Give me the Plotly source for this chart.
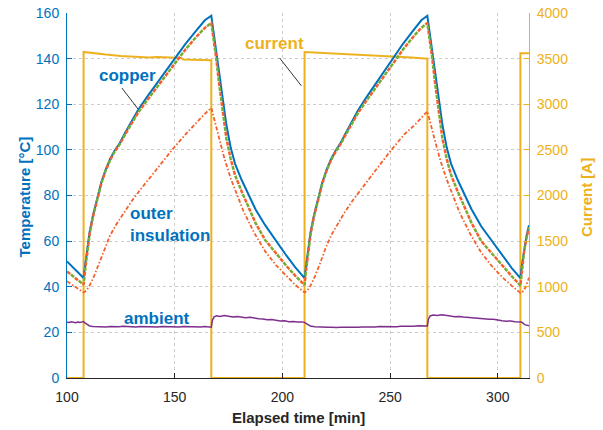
import plotly.graph_objects as go

# ---------------- data ----------------
cu_t = [100, 102, 104, 106, 107.7,
        108.5, 109.5, 110.5, 112, 114, 116, 118, 120, 122, 124.5, 127, 130, 133, 137, 140, 143, 147, 150, 155, 160, 164, 167,
        168, 169.3, 170.5, 172, 174, 176, 178, 181, 184, 187.5, 192, 197, 202, 206, 208, 210.3,
        211.1, 212.1, 213.1, 214.6, 216.6, 218.6, 220.6, 222.6, 224.6, 227, 229.5, 232.3, 235.2, 239, 241.9, 244.7, 248.5, 251.4, 256, 260.7, 264.5, 267.3,
        268.3, 269.6, 270.8, 272.3, 274.3, 276.3, 278.3, 281.3, 284.3, 287.8, 292.3, 297.3, 302.3, 306.5, 308.5, 310.5,
        311.3, 312.3, 313.3, 314.5]
cu_v = [51.1, 49.2, 47.4, 45.5, 43.8,
        50, 58, 64, 71, 79, 86, 91.5, 96, 99.5, 103, 107.5, 112.5, 117.5, 123, 127, 131, 136.2, 140.3, 146.5, 152.3, 156.8, 158.8,
        152, 144, 135, 125, 111, 101, 94, 87, 81, 74, 67, 60, 53.5, 48.5, 46.2, 43.8,
        50, 58, 64, 71, 79, 86, 91.5, 96, 99.5, 103, 107.5, 112.5, 117.5, 123, 127, 131, 136.2, 140.3, 146.5, 152.3, 156.8, 158.8,
        152, 144, 135, 125, 111, 101, 94, 87, 81, 74, 66.5, 60, 53.5, 48.2, 46, 43.8,
        50, 57, 62, 67]

ins_t = [100, 102, 104, 106, 107.7,
         108.5, 109.5, 110.5, 112, 114, 116, 118, 120, 122, 124.5, 127, 130, 133, 137, 140, 143, 147, 150, 155, 160, 164, 167,
         168, 169.3, 170.5, 172, 174, 176, 178, 181, 184, 187.5, 192, 197, 202, 206, 210.3,
         211.1, 212.1, 213.1, 214.6, 216.6, 218.6, 220.6, 222.6, 224.6, 227, 229.5, 232.3, 235.2, 239, 241.9, 244.7, 248.5, 251.4, 256, 260.7, 264.5, 267.3,
         268.3, 269.6, 270.8, 272.3, 274.3, 276.3, 278.3, 281.3, 284.3, 287.8, 292.3, 297.3, 302.3, 306.5, 310.5,
         311.3, 312.3, 313.3, 314.5]
ins_v = [46.7, 45.2, 43.8, 42.3, 40.9,
         48, 56.5, 63, 70.5, 78.5, 85.5, 91, 95.5, 99, 102.5, 106.8, 111.5, 116.3, 121.5, 125.3, 129.2, 134.2, 138.2, 144, 149.5, 153.5, 155.6,
         149, 140, 130, 119, 105, 96, 89, 82, 75.5, 68, 60.5, 54.5, 49, 44.8, 40.7,
         48, 56.5, 63, 70.5, 78.5, 85.5, 91, 95.5, 99, 102.5, 106.8, 111.5, 116.3, 121.5, 125.3, 129.2, 134.2, 138.2, 144, 149.5, 153.5, 155.6,
         149, 140, 130, 119, 105, 96, 89, 82, 75.5, 68, 60, 54.5, 49, 44.6, 40.5,
         48, 56, 61, 66]

out_t = [100, 102, 104, 106, 107.7,
         109, 110.5, 112.5, 115, 117.5, 120, 123, 126, 130, 134, 138, 143, 148.8, 155, 160, 164, 167,
         170, 173, 176, 179, 182, 187, 192, 197, 202, 206, 210.3,
         211.6, 213.1, 215.1, 217.6, 220.1, 222.6, 225.6, 228.5, 232.4, 236.3, 240.1, 245, 250.6, 256.6, 261.5, 264.9, 267.3,
         270.3, 273.3, 276.3, 279.3, 282.3, 287.3, 292.3, 297.3, 302.3, 306.4, 310.5,
         311.8, 313, 314.5]
out_v = [42.4, 41.2, 39.9, 38.6, 37.5,
         38.3, 40.5, 44.5, 50.5, 57, 62.5, 67.5, 72, 77.5, 82.5, 87.3, 93.2, 100, 106.8, 112, 115.8, 118.4,
         107, 96.5, 87.5, 80, 73, 63.5, 55.5, 49.5, 44.5, 40.8, 37.5,
         38.3, 40.5, 44.5, 50.5, 57, 62.5, 67.5, 72, 77.5, 82.5, 87.3, 93.2, 100, 106.8, 111, 114.5, 116.9,
         106, 95.5, 87, 79.5, 72.5, 63, 55, 49, 44, 40.5, 37.3,
         38, 40, 44]

amb_t = [100, 101, 102, 103, 104, 105, 106, 107, 107.7, 108.5, 109.5, 110.5, 112,
         114, 116, 118, 120, 122, 124, 126, 128, 130, 132, 134, 136, 138, 140, 142, 144, 146, 148,
         150, 152, 154, 156, 158, 160, 162, 164, 166, 167, 167.5, 168.3, 169.5, 171, 173, 175, 177,
         179, 181, 183, 185, 187, 189, 191, 193, 195, 197, 199, 201, 203, 205, 207, 209, 210.3,
         211.5, 213, 215, 217, 219, 221, 223, 225, 227, 229, 231, 233, 235, 237, 239, 241, 243, 245,
         247, 249, 251, 253, 255, 257, 259, 261, 263, 265, 267.3, 267.8, 268.6, 270, 272, 274, 276,
         278, 280, 282, 284, 286, 288, 290, 292, 294, 296, 298, 300, 302, 304, 306, 308, 310, 311,
         312.5, 314.5]
amb_v = [24.5, 24.3, 24.6, 24.4, 24.2, 24.5, 24.3, 24.6, 24.7, 24.0, 23.2, 22.8, 22.6,
         22.5, 22.3, 22.4, 22.6, 22.4, 22.5, 22.7, 22.5, 22.6, 22.4, 22.6, 22.5, 22.7, 22.5, 22.4, 22.6, 22.5, 22.3,
         22.5, 22.4, 22.6, 22.5, 22.3, 22.5, 22.4, 22.6, 22.4, 22.3, 25.3, 26.8, 27.3, 27.0, 27.4, 27.1, 26.7,
         26.9, 26.5, 26.4, 26.6, 26.2, 26.0, 25.9, 25.5, 25.6, 25.2, 25.0, 25.1, 24.7, 24.8, 24.5, 24.6, 24.4,
         23.6, 22.8, 22.5, 22.3, 22.4, 22.2, 22.3, 22.1, 22.3, 22.2, 22.4, 22.3, 22.2, 22.4, 22.3, 22.5, 22.4, 22.6,
         22.5, 22.4, 22.6, 22.5, 22.7, 22.6, 22.8, 22.7, 22.9, 22.8, 22.8, 25.8, 27.2, 27.6, 27.4, 27.7, 27.3,
         27.2, 26.9, 27.0, 26.7, 26.5, 26.6, 26.3, 26.1, 25.9, 25.7, 25.8, 25.3, 25.1, 24.9, 25.0, 24.7, 24.5, 24.6,
         23.4, 22.9]

cur_t = [100, 107.7, 107.7, 112, 118, 125, 132, 138, 142, 146, 150, 153, 154, 160, 167, 167,
         210.3, 210.3, 215, 220, 230, 240, 250, 260, 267.3, 267.3, 310.5, 310.5, 314.5]
cur_v = [0, 0, 3573, 3560, 3545, 3530, 3518, 3512, 3518, 3514, 3515, 3508, 3490, 3487, 3483, 0,
         0, 3573, 3568, 3560, 3550, 3538, 3527, 3513, 3500, 0, 0, 3560, 3560]

x_ticks = [100, 150, 200, 250, 300]
temp_ticks = [0, 20, 40, 60, 80, 100, 120, 140, 160]
cur_ticks = [0, 500, 1000, 1500, 2000, 2500, 3000, 3500, 4000]

# ---------------- styling ----------------
BLUE = "#0072BD"
ORANGE = "#F5602A"
GREEN = "#77AC30"
PURPLE = "#7E2F8E"
YELLOW = "#EDB120"
DARK = "#262626"
FONT = "Liberation Sans, Arial, Helvetica, sans-serif"

fig = go.Figure()

# current on base axis (drawn below)
fig.add_trace(go.Scatter(x=cur_t, y=cur_v, mode="lines", line=dict(color=YELLOW, width=2),
                         xaxis="x", yaxis="y", showlegend=False))

# temperatures on overlaying axis (drawn above)
fig.add_trace(go.Scatter(x=amb_t, y=amb_v, mode="lines", line=dict(color=PURPLE, width=1.5),
                         xaxis="x", yaxis="y2", showlegend=False))
fig.add_trace(go.Scatter(x=out_t, y=out_v, mode="lines",
                         line=dict(color=ORANGE, width=1.8, dash="4px,2px,1.5px,2px"),
                         xaxis="x", yaxis="y2", showlegend=False))
fig.add_trace(go.Scatter(x=cu_t, y=cu_v, mode="lines", line=dict(color=BLUE, width=2),
                         xaxis="x", yaxis="y2", showlegend=False))
fig.add_trace(go.Scatter(x=ins_t, y=ins_v, mode="lines",
                         line=dict(color=ORANGE, width=2.5, dash="4px,6px"),
                         xaxis="x", yaxis="y2", showlegend=False))
fig.add_trace(go.Scatter(x=ins_t, y=ins_v, mode="lines",
                         line=dict(color=GREEN, width=2.5, dash="0.01px,5px,4px,0.99px"),
                         xaxis="x", yaxis="y2", showlegend=False))

L, R, T, B = 66.7, 74.3, 13.3, 51.7

fig.update_layout(
    width=603, height=430,
    margin=dict(l=L, r=R, t=T, b=B, autoexpand=False),
    paper_bgcolor="white", plot_bgcolor="white",
    font=dict(family=FONT, size=14, color=DARK),
    xaxis=dict(range=[100, 314.5], tickvals=x_ticks, ticks="inside", ticklen=5,
               tickcolor=DARK, showline=True, linecolor=DARK, linewidth=1,
               showgrid=True, gridcolor="#cccccc", griddash="dot", gridwidth=1,
               zeroline=False, tickfont=dict(size=14, color=DARK), ticklabelstandoff=6),
    yaxis=dict(range=[0, 4000], tickvals=cur_ticks, side="right", ticks="inside", ticklen=5,
               tickcolor=YELLOW, showline=True, linecolor=YELLOW, linewidth=1,
               showgrid=True, gridcolor="#cccccc", griddash="dot", gridwidth=1,
               zeroline=False, tickfont=dict(size=14, color=YELLOW), ticklabelstandoff=4),
    yaxis2=dict(range=[0, 160], tickvals=temp_ticks, side="left", overlaying="y",
                ticks="inside", ticklen=5, tickcolor=BLUE, showline=True, linecolor=BLUE,
                linewidth=1, showgrid=False, zeroline=False,
                tickfont=dict(size=14, color=BLUE), ticklabelstandoff=4),
)

W = 603 - L - R
H = 430 - T - B

def px(xp):
    return (xp - L) / W

def py(yp):
    return (430 - B - yp) / H

annots = [
    dict(text="<b>Temperature [°C]</b>", x=px(24), y=py(197.5), xref="paper", yref="paper",
         textangle=-90, showarrow=False, font=dict(size=15, color=BLUE), xanchor="center", yanchor="middle"),
    dict(text="<b>Current [A]</b>", x=px(585.5), y=py(197.5), xref="paper", yref="paper",
         textangle=-90, showarrow=False, font=dict(size=15, color=YELLOW), xanchor="center", yanchor="middle"),
    dict(text="<b>Elapsed time [min]</b>", x=0.5, y=py(418), xref="paper", yref="paper",
         showarrow=False, font=dict(size=15, color=DARK), xanchor="center", yanchor="middle"),
    dict(text="<b>copper</b>", x=128.1, y=132.5, xref="x", yref="y2", showarrow=False,
         font=dict(size=17, color=BLUE), xanchor="center", yanchor="middle"),
    dict(text="<b>current</b>", x=196.5, y=146.8, xref="x", yref="y2", showarrow=False,
         font=dict(size=17, color=YELLOW), xanchor="center", yanchor="middle"),
    dict(text="<b>outer<br>insulation</b>", x=128.1, y=67.2, xref="x", yref="y2", showarrow=False,
         font=dict(size=17, color=BLUE), xanchor="left", yanchor="middle", align="left"),
    dict(text="<b>ambient</b>", x=141.6, y=26.3, xref="x", yref="y2", showarrow=False,
         font=dict(size=17, color=BLUE), xanchor="center", yanchor="middle"),
]
fig.update_layout(annotations=annots)

# pointer lines
fig.add_shape(type="line", x0=125.5, y0=127.1, x1=133.0, y1=117.9, xref="x", yref="y2",
              line=dict(color="#333333", width=1))
fig.add_shape(type="line", x0=198.7, y0=140.3, x1=208.8, y1=128.1, xref="x", yref="y2",
              line=dict(color="#333333", width=1))

fig.write_html("out.html")
